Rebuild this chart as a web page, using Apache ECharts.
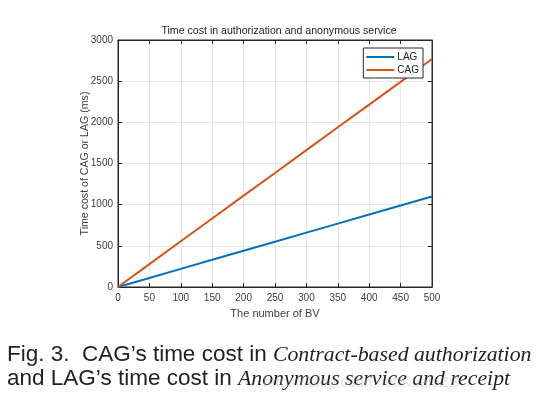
<!DOCTYPE html>
<html>
<head>
<meta charset="utf-8">
<script src="https://cdn.jsdelivr.net/npm/echarts@6/dist/echarts.min.js"></script>
<style>
  html, body { margin: 0; padding: 0; background: #fff; }
  #main { width: 536px; height: 397px; }
</style>
</head>
<body>
<div id="main"></div>
<script>
// values
var bvCount = [0, 50, 100, 150, 200, 250, 300, 350, 400, 450, 500];
var lagCost = [0, 110, 220, 330, 440, 550, 660, 770, 880, 990, 1100];
var cagCost = [0, 278, 555, 832, 1110, 1385, 1662, 1940, 2215, 2492, 2770];

var axisColor = '#262626';
var textColor = '#404040';
var gridColor = '#e6e6e6';
var font = 'Liberation Sans, Arial, sans-serif';

function pairs(xs, ys) {
    var out = [];
    for (var i = 0; i < xs.length; i++) out.push([xs[i], ys[i]]);
    return out;
}
function plain(v) { return String(v); }

var myChart = echarts.init(document.getElementById('main'));
var option = {
    backgroundColor: '#fff',
    animation: false,
    title: [
        {
            text: 'Time cost in authorization and anonymous service',
            left: 274,
            top: 21,
            textAlign: 'center',
            textStyle: { color: '#262626', fontSize: 10.6, fontWeight: 'normal', fontFamily: font }
        },
        {
            text: '{s|Fig. 3.  CAG\u2019s time cost in }{i|Contract-based authorization}\n' +
                  '{s|and LAG\u2019s time cost in }{i|Anonymous service and receipt}',
            left: 2,
            top: 338,
            textStyle: {
                fontWeight: 'normal',
                rich: {
                    s: { fontFamily: font, fontSize: 22.5, fontWeight: 'normal', color: '#222', lineHeight: 24 },
                    i: { fontFamily: 'Liberation Serif, serif', fontStyle: 'italic', fontWeight: 'normal', fontSize: 21.8, color: '#222', lineHeight: 24 }
                }
            }
        },
        {
            text: 'https://blog.csdn.net/KoalaZB',
            left: 258,
            top: 370,
            textStyle: { color: 'rgba(190,190,190,0.4)', fontSize: 15, fontWeight: 'normal', fontFamily: font }
        }
    ],
    color: ['#0072BD', '#D95319'],
    legend: {
        orient: 'vertical',
        right: 113,
        top: 48,
        backgroundColor: '#fff',
        borderColor: axisColor,
        borderWidth: 1,
        padding: [4, 4, 3, 3],
        itemGap: 3,
        itemWidth: 28,
        itemHeight: 2,
        icon: 'rect',
        textStyle: { color: '#262626', fontSize: 10, fontFamily: font, padding: [0, 0, 0, -2] },
        data: ['LAG', 'CAG']
    },
    grid: {
        left: 118,
        right: 104,
        top: 40,
        bottom: 110,
        show: true,
        borderColor: axisColor,
        borderWidth: 1
    },
    xAxis: [
        {
            type: 'value',
            min: 0,
            max: 500,
            interval: 50,
            name: 'The number of BV',
            nameLocation: 'middle',
            nameGap: 21,
            nameMoveOverlap: false,
            nameTextStyle: { color: textColor, fontSize: 11, fontFamily: font },
            axisLine: { show: true, onZero: false, lineStyle: { color: axisColor } },
            axisTick: { inside: true, length: 4, lineStyle: { color: axisColor } },
            axisLabel: { color: textColor, fontSize: 10, fontFamily: font, margin: 6, formatter: plain },
            splitLine: { show: true, lineStyle: { color: gridColor } }
        },
        {
            type: 'value',
            position: 'top',
            min: 0,
            max: 500,
            interval: 50,
            axisLine: { show: true, onZero: false, lineStyle: { color: axisColor } },
            axisTick: { inside: true, length: 4, lineStyle: { color: axisColor } },
            axisLabel: { show: false },
            splitLine: { show: false }
        }
    ],
    yAxis: [
        {
            type: 'value',
            min: 0,
            max: 3000,
            interval: 500,
            name: 'Time cost of CAG or LAG (ms)',
            nameLocation: 'middle',
            nameGap: 27,
            nameMoveOverlap: false,
            nameTextStyle: { color: textColor, fontSize: 10.6, fontFamily: font },
            axisLine: { show: true, onZero: false, lineStyle: { color: axisColor } },
            axisTick: { show: true, inside: true, length: 4, lineStyle: { color: axisColor } },
            axisLabel: { color: textColor, fontSize: 10, fontFamily: font, margin: 5, formatter: plain },
            splitLine: { show: true, lineStyle: { color: gridColor } }
        },
        {
            type: 'value',
            position: 'right',
            min: 0,
            max: 3000,
            interval: 500,
            axisLine: { show: true, onZero: false, lineStyle: { color: axisColor } },
            axisTick: { show: true, inside: true, length: 4, lineStyle: { color: axisColor } },
            axisLabel: { show: false },
            splitLine: { show: false }
        }
    ],
    series: [
        {
            name: 'LAG',
            type: 'line',
            showSymbol: false,
            lineStyle: { width: 2 },
            data: pairs(bvCount, lagCost)
        },
        {
            name: 'CAG',
            type: 'line',
            showSymbol: false,
            lineStyle: { width: 2 },
            data: pairs(bvCount, cagCost)
        }
    ]
};
myChart.setOption(option);
window.onresize = myChart.resize;
</script>
</body>
</html>
